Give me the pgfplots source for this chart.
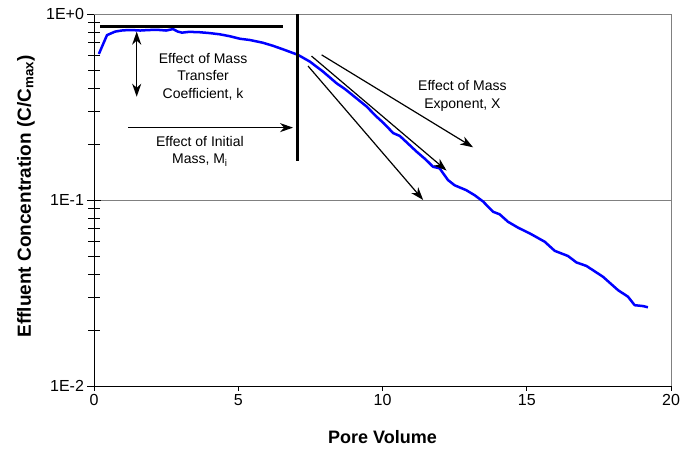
\documentclass[border=0pt]{standalone}
\usepackage{fontspec}
\setmainfont{Liberation Sans}
\usepackage{pgfplots}
\pgfplotsset{compat=1.18}
\usetikzlibrary{arrows.meta}

\begin{document}
\begin{tikzpicture}[
    >={Stealth[length=13pt,width=9pt,inset=4pt]},
]
\begin{axis}[
    width=577pt, height=372pt, scale only axis,
    xmin=0, xmax=20, ymin=0.01, ymax=1,
    ymode=log,
    axis x line*=bottom, axis y line*=left,
    axis line style={black, line width=0.9pt},
    clip=false,
    xtick=\empty,
    extra x ticks={0,5,10,15,20},
    extra x tick labels={0,5,10,15,20},
    extra x tick style={tick align=outside, major tick length=5pt},
    ytick={0.01,0.1,1},
    yticklabels={1E-2,1E-1,1E+0},
    tick align=center,
    major tick length=13pt, minor tick length=11pt,
    tick style={black, line width=0.8pt},
    ymajorgrids, grid style={gray, line width=0.8pt},
    tick label style={font=\fontsize{16}{19}\selectfont},
    xlabel={\textbf{Pore Volume}},
    ylabel={\textbf{Effluent Concentration (C/C\textsubscript{max})}},
    x label style={font=\fontsize{18}{21}\selectfont, at={(axis description cs:0.5,-0.137)}, anchor=center},
    y label style={font=\fontsize{19}{22}\selectfont, at={(axis description cs:-0.118,0.51)}, anchor=center},
]
\draw[gray, line width=0.8pt] (rel axis cs:0,1) -- (rel axis cs:1,1) -- (rel axis cs:1,0);

\addplot[blue, line width=2.5pt, line join=round] coordinates {
(0.17,0.610) (0.45,0.770) (0.73,0.804) (1.0,0.817) (1.3,0.820) (1.6,0.815)
(1.9,0.820) (2.2,0.822) (2.5,0.815) (2.74,0.830) (2.9,0.805) (3.05,0.794)
(3.3,0.802) (3.67,0.798) (4.0,0.790) (4.36,0.778) (4.7,0.760) (5.06,0.736)
(5.4,0.725) (5.85,0.701) (6.2,0.675) (6.55,0.646) (7.07,0.603) (7.48,0.555)
(7.94,0.490) (8.41,0.424) (8.7,0.395) (9.1,0.352) (9.45,0.318) (9.79,0.281)
(10.05,0.258) (10.37,0.229) (10.6,0.221) (10.9,0.200) (11.18,0.182) (11.5,0.165)
(11.75,0.151) (11.98,0.148) (12.27,0.128) (12.5,0.120) (12.9,0.113) (13.2,0.106)
(13.49,0.098) (13.83,0.0865) (14.06,0.0838) (14.35,0.0764) (14.7,0.0710) (15.1,0.0662)
(15.62,0.0597) (15.97,0.0533) (16.43,0.0500) (16.72,0.0462) (17.07,0.0442) (17.64,0.0387)
(18.16,0.0328) (18.51,0.0302) (18.74,0.0272) (19.03,0.0269) (19.2,0.0265)
};

% annotations
\draw[black, line width=3pt] (axis cs:0.21,0.862) -- (axis cs:6.56,0.862);
\draw[black, line width=3pt] (axis cs:7.05,1) -- (axis cs:7.05,0.1626);
\draw[black, line width=1.5pt, <->] (axis cs:1.48,0.804) -- (axis cs:1.48,0.359);
\draw[black, line width=1.5pt, ->] (axis cs:1.19,0.245) -- (axis cs:6.9,0.245);
\draw[black, line width=1.2pt, ->] (axis cs:7.89,0.603) -- (axis cs:13.14,0.192);
\draw[black, line width=1.2pt, ->] (axis cs:7.54,0.594) -- (axis cs:12.22,0.144);
\draw[black, line width=1.2pt, ->] (axis cs:7.42,0.525) -- (axis cs:11.41,0.1);

\node[align=center, font=\fontsize{14}{17.5}\selectfont] at (axis cs:3.78,0.46)
    {Effect of Mass\\Transfer\\Coefficient, k};
\node[align=center, font=\fontsize{14}{17.5}\selectfont] at (axis cs:3.67,0.183)
    {Effect of Initial\\Mass, M\textsubscript{i}};
\node[align=center, font=\fontsize{14}{17.5}\selectfont] at (axis cs:12.77,0.362)
    {Effect of Mass\\Exponent, X};
\end{axis}
\pgfresetboundingbox
\path ([xshift=-94pt,yshift=-65pt]current axis.south west) rectangle ([xshift=10pt,yshift=14pt]current axis.north east);
\end{tikzpicture}
\end{document}
